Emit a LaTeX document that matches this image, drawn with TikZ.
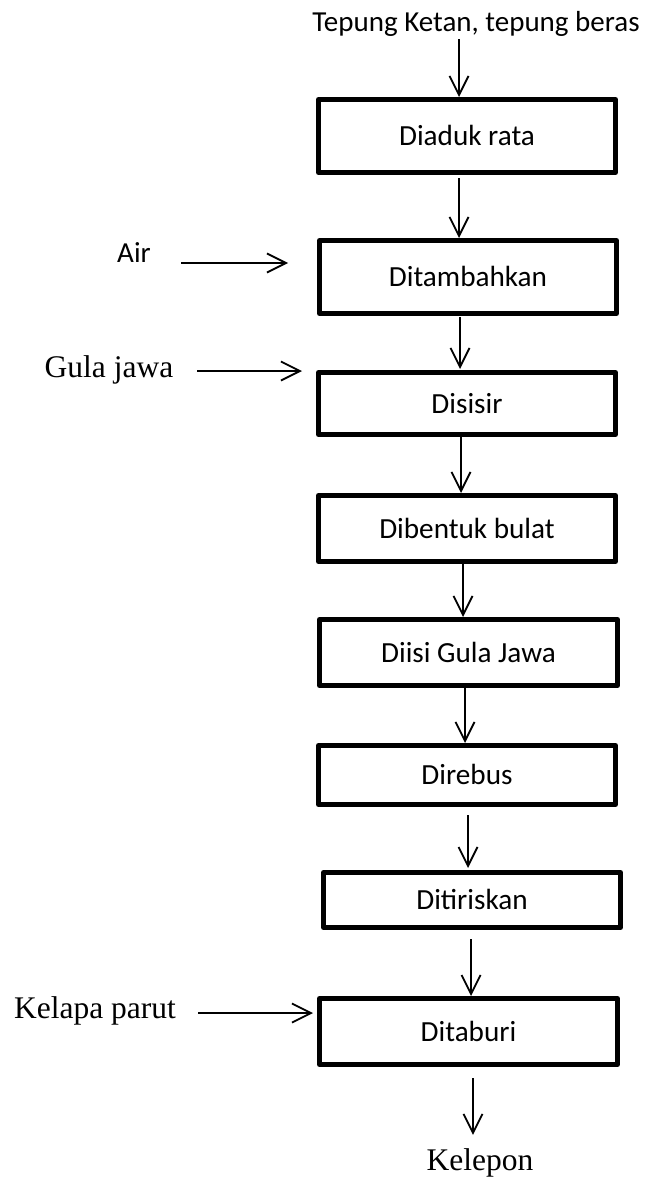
\documentclass[tikz,border=0pt]{standalone}
\usepackage{fontspec}
\newfontfamily\carlito{Carlito}
\newfontfamily\tnr{Liberation Serif}
\usetikzlibrary{arrows.meta}
\begin{document}
\begin{tikzpicture}[x=1pt,y=-1pt,
  stage/.style={draw, line width=5pt, line join=round, inner sep=0pt, outer sep=0pt,
    font=\carlito\fontsize{29.2}{31}\selectfont, text height=19pt, text depth=0pt},
  flow/.style={line width=1.8pt, -{Straight Barb[length=19pt,width=19pt,line width=1.8pt]}},
  sans/.style={font=\carlito\fontsize{29}{31}\selectfont, anchor=base, inner sep=0pt},
  serif/.style={font=\tnr\fontsize{31.5}{34}\selectfont, anchor=base, inner sep=0pt}]
\useasboundingbox (0,0) rectangle (647,1180);

% process stages
\node[stage, minimum width=297pt, minimum height=73pt] (d1) at (467,136)   {Diaduk rata};
\node[stage, minimum width=297pt, minimum height=73pt] (d2) at (468,277)   {Ditambahkan};
\node[stage, minimum width=297pt, minimum height=62pt] (d3) at (467,403.5) {Disisir};
\node[stage, minimum width=297pt, minimum height=66pt] (d4) at (467,528.5) {Dibentuk bulat};
\node[stage, minimum width=298pt, minimum height=66pt] (d5) at (468.5,652.5) {Diisi Gula Jawa};
\node[stage, minimum width=297pt, minimum height=59pt] (d6) at (467,775)   {Direbus};
\node[stage, minimum width=297pt, minimum height=55pt] (d7) at (472,900)   {Ditiriskan};
\node[stage, minimum width=298pt, minimum height=66pt] (d8) at (468.5,1031.5) {Ditaburi};

% inputs and product
\node[sans]  (tepung) at (476,32)   {Tepung Ketan, tepung beras};
\node[sans]  (air)    at (134,262)  {Air};
\node[serif] (gula)   at (109,377)  {Gula jawa};
\node[serif] (kelapa) at (95,1018)  {Kelapa parut};
\node[serif] (kel)    at (480,1170) {Kelepon};

% main flow
\draw[flow, shorten <=2pt, shorten >=2.5pt] ([xshift=-17pt]tepung.south) -- ([xshift=-8pt]d1.north);
\draw[flow, shorten <=5.5pt, shorten >=2.5pt] ([xshift=-8pt]d1.south) -- ([xshift=-9pt]d2.north);
\draw[flow, shorten <=3.5pt, shorten >=3.5pt] ([xshift=-8pt]d2.south) -- ([xshift=-7pt]d3.north);
\draw[flow, shorten <=2.5pt, shorten >=2.5pt] ([xshift=-6pt]d3.south) -- ([xshift=-6pt]d4.north);
\draw[flow, shorten <=2.5pt, shorten >=2.5pt] ([xshift=-4pt]d4.south) -- ([xshift=-5.5pt]d5.north);
\draw[flow, shorten <=2.5pt, shorten >=2.5pt] ([xshift=-3.5pt]d5.south) -- ([xshift=-2pt]d6.north);
\draw[flow, shorten <=10.5pt, shorten >=4.5pt] ([xshift=1pt]d6.south) -- ([xshift=-4pt]d7.north);
\draw[flow, shorten <=11.5pt, shorten >=2.5pt] ([xshift=-1pt]d7.south) -- ([xshift=2.5pt]d8.north);
\draw[flow, shorten <=13.5pt, shorten >=13pt] ([xshift=4.5pt]d8.south) -- ([xshift=-7pt]kel.north);

% side inputs
\coordinate (airA) at (181,263);
\coordinate (airB) at (288,263);
\coordinate (gulaA) at (197,371);
\coordinate (gulaB) at (302,371);
\coordinate (kelA) at (198,1013);
\coordinate (kelB) at (313,1013);
\draw[flow] (airA) -- (airB);
\draw[flow] (gulaA) -- (gulaB);
\draw[flow] (kelA) -- (kelB);
\end{tikzpicture}
\end{document}
